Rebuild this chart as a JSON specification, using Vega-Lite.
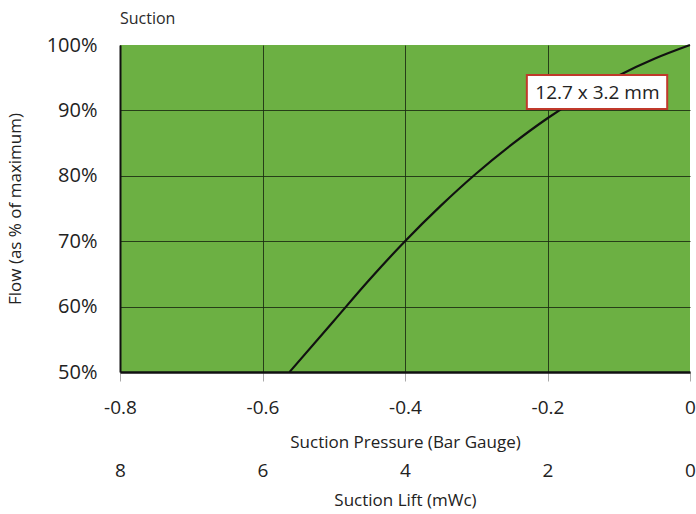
{
  "$schema": "https://vega.github.io/schema/vega-lite/v6.json",
  "width": 570,
  "height": 327,
  "autosize": "none",
  "padding": {"left": 120, "top": 45, "right": 6, "bottom": 142},
  "title": {"text": "Suction", "anchor": "start", "frame": "group", "fontSize": 16, "fontWeight": "normal", "font": "Open Sans", "color": "#2a2a2a", "offset": 0, "dy": 8, "baseline": "bottom"},
  "config": {"view": {"fill": "#6cb043", "stroke": null}},
  "datasets": {
    "curve": [
      {"pressure": -0.562, "flow": 50},
      {"pressure": -0.5, "flow": 57.8},
      {"pressure": -0.45, "flow": 64.1},
      {"pressure": -0.4, "flow": 70},
      {"pressure": -0.35, "flow": 75.4},
      {"pressure": -0.3, "flow": 80.35},
      {"pressure": -0.25, "flow": 84.8},
      {"pressure": -0.2, "flow": 88.8},
      {"pressure": -0.15, "flow": 92.3},
      {"pressure": -0.1, "flow": 95.35},
      {"pressure": -0.05, "flow": 97.9},
      {"pressure": 0, "flow": 100}
    ],
    "label": [
      {"label": "12.7 x 3.2 mm", "x": -0.13, "y": 92.7, "x1": -0.229, "x2": -0.032, "y1": 95.4, "y2": 90.2}
    ]
  },
  "resolve": {"axis": {"x": "independent"}},
  "layer": [
    {
      "data": {"name": "curve"},
      "mark": {"type": "line", "color": "#111111", "strokeWidth": 2.2, "interpolate": "monotone"},
      "encoding": {
        "x": {
          "field": "pressure", "type": "quantitative",
          "scale": {"domain": [-0.8, 0], "nice": false, "zero": false},
          "axis": {
            "title": "Suction Pressure (Bar Gauge)",
            "values": [-0.8, -0.6, -0.4, -0.2, 0],
            "labelExpr": "datum.value == 0 ? '0' : '-' + format(-datum.value, '.1f')",
            "grid": true, "gridColor": "#1a2a10",
            "gridOpacity": {"condition": {"test": "datum.value == 0", "value": 0}, "value": 0.85},
            "domainColor": "#111111", "domainWidth": 2.5,
            "tickColor": "#aaaaaa", "tickSize": 9, "labelPadding": 17,
            "labelFontSize": 19, "labelFont": "Open Sans", "labelColor": "#222222",
            "labelFlush": false, "labelOverlap": false, "labelBound": false,
            "titleFontSize": 17, "titleFont": "Open Sans", "titleFontWeight": "normal", "titleColor": "#222222",
            "titleY": 70, "titleBaseline": "middle"
          }
        },
        "y": {
          "field": "flow", "type": "quantitative",
          "scale": {"domain": [50, 100], "nice": false, "zero": false},
          "axis": {
            "title": "Flow (as % of maximum)",
            "values": [50, 60, 70, 80, 90, 100],
            "labelExpr": "datum.value + '%'",
            "ticks": false, "labelPadding": 23,
            "labelFontSize": 20, "labelFont": "Open Sans", "labelColor": "#222222",
            "labelOverlap": false, "labelBound": false,
            "grid": true, "gridColor": "#1a2a10",
            "gridOpacity": {"condition": {"test": "datum.value == 100", "value": 0}, "value": 0.85},
            "domainColor": "#111111", "domainWidth": 2,
            "titleFontSize": 17, "titleFont": "Open Sans", "titleFontWeight": "normal", "titleColor": "#222222",
            "titleX": -105, "titleY": 163.5, "titleAngle": -90, "titleBaseline": "middle", "titleAlign": "center"
          }
        }
      }
    },
    {
      "data": {"name": "label"},
      "mark": {"type": "rect", "fill": "white", "stroke": "#c0392b", "strokeWidth": 2},
      "encoding": {
        "x": {
          "field": "x1", "type": "quantitative",
          "axis": {
            "orient": "bottom", "offset": 80,
            "title": "Suction Lift (mWc)",
            "values": [-0.8, -0.6, -0.4, -0.2, 0],
            "labelExpr": "datum.value == 0 ? '0' : format(-datum.value * 10, 'd')",
            "ticks": false, "domain": false, "grid": false, "labelPadding": 9,
            "labelFontSize": 19, "labelFont": "Open Sans", "labelColor": "#222222",
            "labelFlush": false, "labelOverlap": false, "labelBound": false,
            "titleFontSize": 17, "titleFont": "Open Sans", "titleFontWeight": "normal", "titleColor": "#222222",
            "titleY": 48, "titleBaseline": "middle"
          }
        },
        "x2": {"field": "x2"},
        "y": {"field": "y1", "type": "quantitative"},
        "y2": {"field": "y2"}
      }
    },
    {
      "data": {"name": "label"},
      "mark": {"type": "text", "fontSize": 19, "font": "Open Sans", "color": "#222222", "align": "center", "baseline": "middle"},
      "encoding": {
        "x": {"field": "x", "type": "quantitative", "axis": null},
        "y": {"field": "y", "type": "quantitative"},
        "text": {"field": "label"}
      }
    }
  ]
}
